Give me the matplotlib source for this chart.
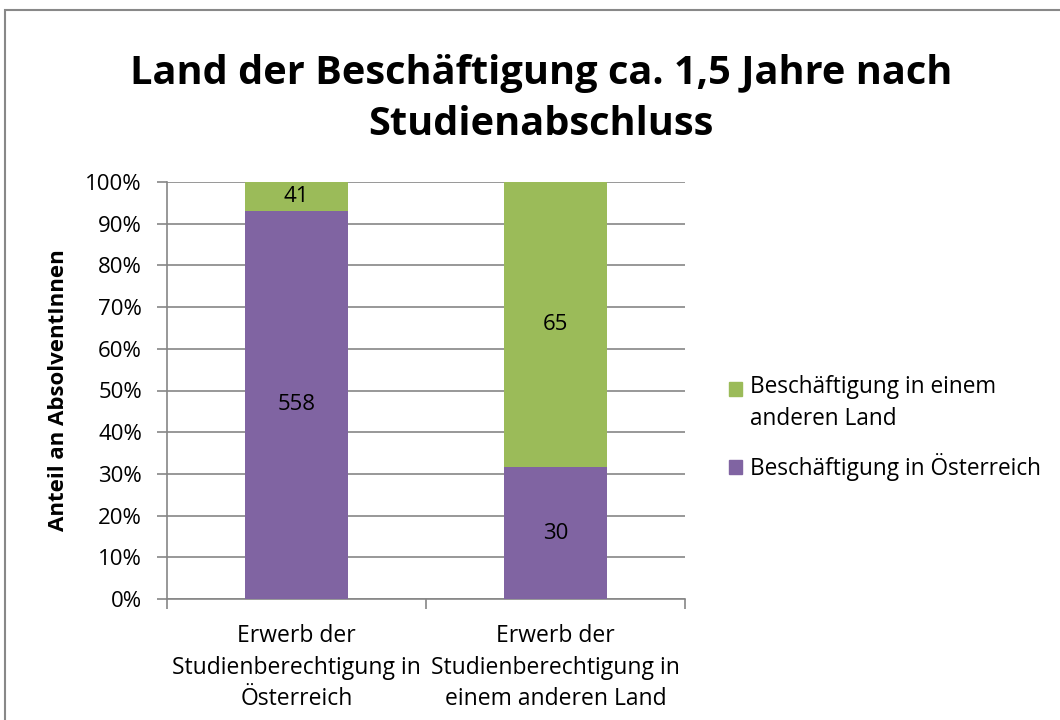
import matplotlib.pyplot as plt
from matplotlib.patches import Rectangle, Patch
from matplotlib.legend_handler import HandlerPatch
import numpy as np

plt.rcParams['font.family'] = ['Open Sans', 'DejaVu Sans']

categories = ["Erwerb der\nStudienberechtigung in\nÖsterreich",
              "Erwerb der\nStudienberechtigung in\neinem anderen Land"]
oesterreich = [558, 30]
anderes_land = [41, 65]
series_names = ["Beschäftigung in Österreich", "Beschäftigung in einem\nanderen Land"]

purple = "#8064A2"
green = "#9BBB59"
gridc = "#868686"
fs = 16

oe = np.array(oesterreich, dtype=float)
al = np.array(anderes_land, dtype=float)
tot = oe + al
oe_p = oe / tot * 100
al_p = al / tot * 100

fig = plt.figure(figsize=(10.6, 7.2), dpi=100)
# outer chart border
fig.patches.append(Rectangle((5 / 1060, -0.1), 1.2, (710 / 720) + 0.1, transform=fig.transFigure,
                             fill=False, edgecolor="#888888", linewidth=1.5))

ax = fig.add_axes([167 / 1060, 121 / 720, 518 / 1060, 417 / 720])
x = np.arange(len(categories))
ax.bar(x, oe_p, width=0.4, color=purple, zorder=3)
ax.bar(x, al_p, width=0.4, bottom=oe_p, color=green, zorder=3)

for i in range(len(x)):
    ax.text(x[i], oe_p[i] / 2, str(oesterreich[i]), ha="center", va="center", fontsize=fs, zorder=4)
    ax.text(x[i], oe_p[i] + al_p[i] / 2, str(anderes_land[i]), ha="center", va="center", fontsize=fs, zorder=4)

ax.set_xlim(-0.5, 1.5)
ax.set_ylim(0, 100)
ax.set_yticks(np.arange(0, 101, 10))
ax.set_yticklabels([f"{v}%" for v in range(0, 101, 10)], fontsize=fs)
ax.yaxis.grid(True, color=gridc, linewidth=1.2, zorder=0)
ax.tick_params(axis="y", length=7, width=1.2, color=gridc, pad=11)

ax.set_xticks([-0.5, 0.5, 1.5])
ax.set_xticklabels([])
ax.tick_params(axis="x", length=7, width=1.2, color=gridc, direction="out")
for i, lab in enumerate(categories):
    ax.text(x[i], -6.0, lab, ha="center", va="top", fontsize=fs + 0.5, linespacing=1.42,
            transform=ax.transData)

for s in ["top", "right"]:
    ax.spines[s].set_visible(False)
ax.spines["left"].set_color(gridc)
ax.spines["bottom"].set_color(gridc)
ax.spines["left"].set_linewidth(1.2)
ax.spines["bottom"].set_linewidth(1.2)

ax.set_ylabel("Anteil an AbsolventInnen", fontsize=fs, fontweight="bold", labelpad=12)

fig.text(541 / 1060, 1 - 99 / 720, "Land der Beschäftigung ca. 1,5 Jahre nach\nStudienabschluss",
         ha="center", va="center", fontsize=28.6, fontweight="bold", linespacing=1.4)


# legend key next to the first text line, like Excel
def top_square(legend, orig_handle, xdescent, ydescent, width, height, fontsize):
    return Rectangle((-xdescent, -ydescent + 11), width, height)


handles = [Patch(color=green), Patch(color=purple)]
leg = fig.legend(handles, [series_names[1], series_names[0]], loc="upper left",
                 bbox_to_anchor=(709 / 1060, 1 - 355 / 720), frameon=False, fontsize=fs + 0.3,
                 handlelength=0.55, handleheight=0.55, handletextpad=0.35, labelspacing=1.0,
                 handler_map={handles[0]: HandlerPatch(patch_func=top_square)})
for t in leg.get_texts():
    t.set_linespacing(1.4)

fig.savefig("out.png", dpi=100)
